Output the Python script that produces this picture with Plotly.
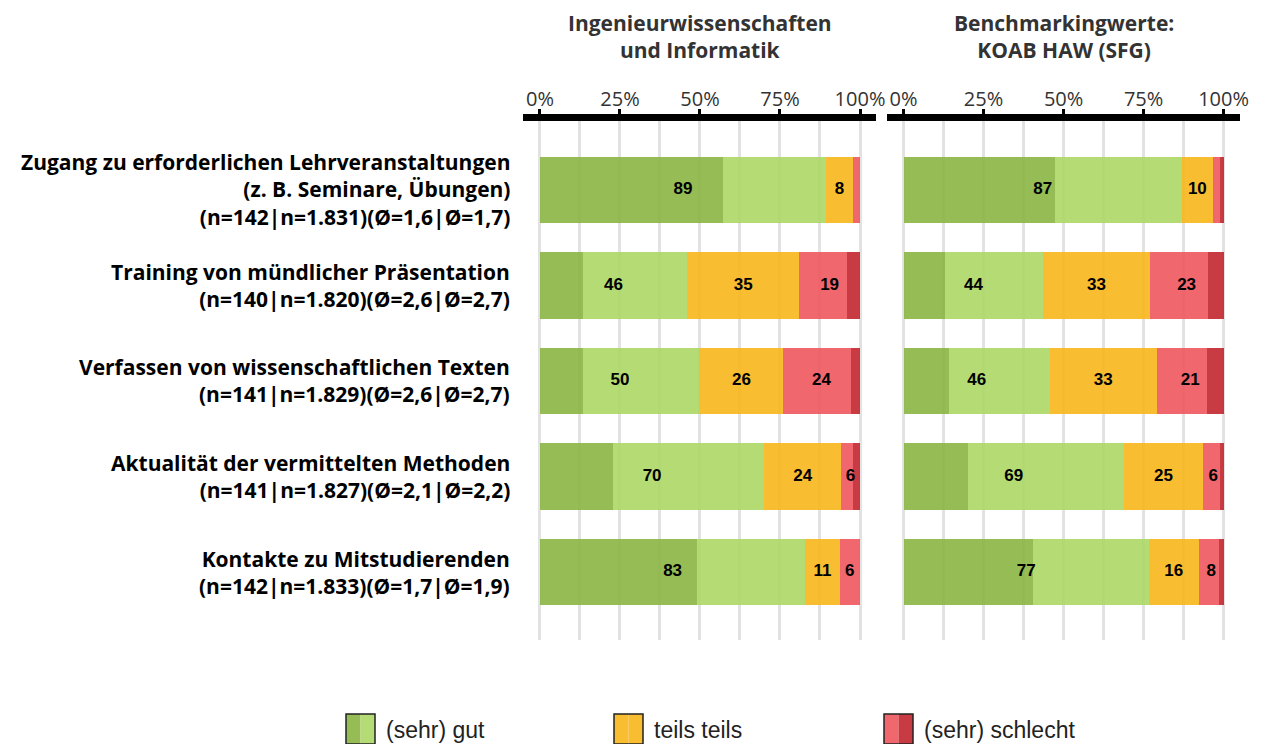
import plotly.graph_objects as go

# Items (y axis), top to bottom
items = [
    "Zugang zu erforderlichen Lehrveranstaltungen<br>(z. B. Seminare, Übungen)<br>(n=142|n=1.831)(Ø=1,6|Ø=1,7)",
    "Training von mündlicher Präsentation<br>(n=140|n=1.820)(Ø=2,6|Ø=2,7)",
    "Verfassen von wissenschaftlichen Texten<br>(n=141|n=1.829)(Ø=2,6|Ø=2,7)",
    "Aktualität der vermittelten Methoden<br>(n=141|n=1.827)(Ø=2,1|Ø=2,2)",
    "Kontakte zu Mitstudierenden<br>(n=142|n=1.833)(Ø=1,7|Ø=1,9)",
]

panel_titles = ["Ingenieurwissenschaften<br>und Informatik", "Benchmarkingwerte:<br>KOAB HAW (SFG)"]

# shares in % (sehr gut, gut, teils teils, schlecht, sehr schlecht)
ing_sehr_gut = [57.1, 13.5, 13.3, 22.7, 49.2]
ing_gut = [32.3, 32.5, 36.7, 47.4, 33.7]
ing_teils = [8.3, 35.0, 25.9, 24.0, 10.7]
ing_schlecht = [2.3, 15.0, 21.3, 3.6, 6.4]
ing_sehr_schlecht = [0.0, 4.0, 2.8, 2.3, 0.0]

koab_sehr_gut = [47.4, 12.8, 14.3, 20.2, 40.3]
koab_gut = [39.6, 30.9, 31.4, 48.7, 36.3]
koab_teils = [9.6, 33.2, 33.4, 24.7, 15.7]
koab_schlecht = [2.3, 18.2, 15.7, 5.2, 6.3]
koab_sehr_schlecht = [1.1, 4.9, 5.2, 1.2, 1.4]

tick_vals = [0, 25, 50, 75, 100]
tick_text = ["0%", "25%", "50%", "75%", "100%"]
legend_labels = ["(sehr) gut", "teils teils", "(sehr) schlecht"]

# colours (drawn slightly transparent so the grid shows through)
c_sg = "rgba(138,181,66,0.9)"
c_g = "rgba(173,216,101,0.9)"
c_t = "rgba(248,182,28,0.9)"
c_s = "rgba(239,87,94,0.9)"
c_ss = "rgba(194,38,47,0.9)"

# page body has an 8px margin, so the figure is a bit smaller than the window
OFF = 8
W, H = 1267 - OFF, 744 - OFF


def px(x):
    return (x - OFF) / W


def py(y):
    return 1 - (y - OFF) / H


ypos = list(range(len(items)))

panels = [
    (ing_sehr_gut, ing_gut, ing_teils, ing_schlecht, ing_sehr_schlecht),
    (koab_sehr_gut, koab_gut, koab_teils, koab_schlecht, koab_sehr_schlecht),
]

fig = go.Figure()

for p, (sg, g, t, s, ss) in enumerate(panels):
    xa = "x" if p == 0 else "x2"
    ya = "y" if p == 0 else "y2"
    for vals, col in zip((sg, g, t, s, ss), (c_sg, c_g, c_t, c_s, c_ss)):
        fig.add_trace(go.Bar(
            x=vals, y=ypos, orientation="h", width=0.7,
            marker=dict(color=col, line=dict(width=0)),
            xaxis=xa, yaxis=ya, showlegend=False, hoverinfo="x",
        ))

    # value labels: (sehr) gut, teils teils, (sehr) schlecht
    lx, ly, lt = [], [], []
    for i in ypos:
        good = sg[i] + g[i]
        bad = s[i] + ss[i]
        groups = [(0, good), (good, t[i]), (good + t[i], bad)]
        for start, v in groups:
            if round(v) >= 5:
                lx.append(start + v / 2)
                ly.append(i)
                lt.append(str(round(v)))
    fig.add_trace(go.Scatter(
        x=lx, y=ly, text=lt, mode="text",
        textfont=dict(family="Liberation Sans, Arial", size=17, color="black", weight="bold"),
        xaxis=xa, yaxis=ya, showlegend=False, hoverinfo="skip",
    ))

xrange = [-5.3, 105]
axis_common = dict(
    range=xrange, side="top", showline=True, linewidth=7, linecolor="black",
    ticks="outside", ticklen=5, tickwidth=3, tickcolor="black",
    tickvals=tick_vals, ticktext=tick_text, ticklabelstandoff=-5,
    tickfont=dict(family="Open Sans", size=20, color="#333333"),
    showgrid=True, gridcolor="#E2E2E2", gridwidth=3, zeroline=False,
    minor=dict(tickvals=[12.5, 37.5, 62.5, 87.5], showgrid=True, gridcolor="#E2E2E2", gridwidth=3, ticks=""),
    fixedrange=True, automargin=False,
)
# plot area starts a little below the thick axis line
yaxis_common = dict(
    range=[4.712, -0.7225], showgrid=False, zeroline=False, showticklabels=False,
    domain=[py(640), py(121)], fixedrange=True,
)

fig.update_layout(
    width=W, height=H,
    margin=dict(l=0, r=0, t=0, b=0),
    paper_bgcolor="white", plot_bgcolor="white",
    barmode="stack", bargap=0.3,
    xaxis=dict(domain=[px(523), px(876)], anchor="y", **axis_common),
    xaxis2=dict(domain=[px(886.6), px(1239.6)], anchor="y2", **axis_common),
    yaxis=dict(anchor="x", **yaxis_common),
    yaxis2=dict(anchor="x2", **yaxis_common),
)

# panel titles
for p, title in enumerate(panel_titles):
    fig.add_annotation(
        x=50, xref="x" if p == 0 else "x2", y=py(36), yref="paper",
        text=title, showarrow=False, xanchor="center", yanchor="middle",
        font=dict(family="Open Sans", size=21, color="#333333", weight="bold"),
    )

# item labels
for i, label in enumerate(items):
    fig.add_annotation(
        x=px(512), xref="paper", y=i, yref="y", text=label, showarrow=False,
        xanchor="right", yanchor="middle", align="right",
        font=dict(family="Open Sans", size=21, color="black", weight="bold"),
    )

# legend with split swatches
legend_x = [346, 614, 884]
swatches = [(c_sg, c_g), (c_t, c_t), (c_s, c_ss)]
for lx0, (ca, cb), lab in zip(legend_x, swatches, legend_labels):
    x0, x1, xm = px(lx0), px(lx0 + 29), px(lx0 + 14.5)
    y0, y1 = py(744), py(714)
    fig.add_shape(type="rect", xref="paper", yref="paper", x0=x0, x1=xm, y0=y0, y1=y1,
                  fillcolor=ca, line=dict(width=0))
    fig.add_shape(type="rect", xref="paper", yref="paper", x0=xm, x1=x1, y0=y0, y1=y1,
                  fillcolor=cb, line=dict(width=0))
    fig.add_shape(type="rect", xref="paper", yref="paper", x0=x0, x1=x1, y0=y0, y1=y1,
                  fillcolor="rgba(0,0,0,0)", line=dict(width=1.5, color="#222222"))
    fig.add_annotation(
        x=px(lx0 + 38), xref="paper", y=py(730), yref="paper", text=lab,
        showarrow=False, xanchor="left", yanchor="middle",
        font=dict(family="Liberation Sans, Arial", size=23, color="#222222"),
    )

fig.write_html("out.html")
